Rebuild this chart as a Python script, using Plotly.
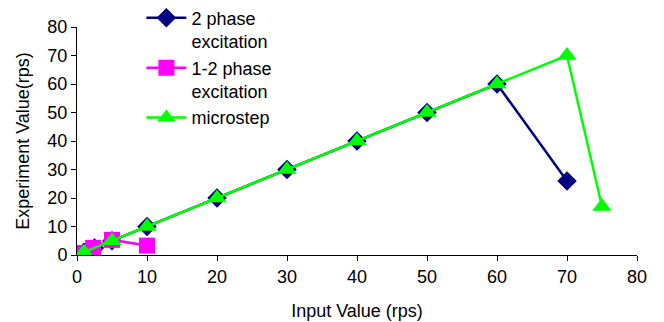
import plotly.graph_objects as go

x_2phase = [1, 2.5, 5, 10, 20, 30, 40, 50, 60, 70]
y_2phase = [1, 2.5, 5, 10, 20, 30, 40, 50, 60, 26]
x_12phase = [0.5, 2.3, 5, 10]
y_12phase = [0.7, 2.5, 5.3, 3.3]
x_micro = [1, 5, 10, 20, 30, 40, 50, 60, 70, 75]
y_micro = [1, 5, 10, 20, 30, 40, 50, 60, 70, 17]

fig = go.Figure()
fig.add_trace(go.Scatter(x=x_2phase, y=y_2phase, mode="lines+markers", name="2 phase<br>excitation",
                         line=dict(color="#000080", width=2.5),
                         marker=dict(symbol="diamond", size=15, color="#000080")))
fig.add_trace(go.Scatter(x=x_12phase, y=y_12phase, mode="lines+markers", name="1-2 phase<br>excitation",
                         line=dict(color="#FF00FF", width=2.5),
                         marker=dict(symbol="square", size=16, color="#FF00FF")))
fig.add_trace(go.Scatter(x=x_micro, y=y_micro, mode="lines+markers", name="microstep",
                         line=dict(color="#00FF00", width=2.5),
                         marker=dict(symbol="triangle-up", size=17, color="#00FF00")))

axis_font = dict(family="Liberation Sans, Arial, sans-serif", size=18, color="black")
fig.update_layout(
    width=664, height=322,
    margin=dict(l=77, r=27, t=27, b=67, autoexpand=False),
    plot_bgcolor="white", paper_bgcolor="white",
    font=axis_font,
    showlegend=True,
    legend=dict(x=0.115, y=1.12, xanchor="left", yanchor="top", bgcolor="rgba(0,0,0,0)",
                font=dict(family="Liberation Sans, Arial, sans-serif", size=18, color="black"),
                tracegroupgap=0, itemwidth=40, valign="top"),
    xaxis=dict(range=[0, 80], dtick=10, showline=True, linecolor="black", linewidth=1,
               ticks="outside", ticklen=5, tickcolor="black", showgrid=False, zeroline=False,
               tickfont=axis_font,
               title=dict(text="Input Value (rps)", font=axis_font, standoff=18)),
    yaxis=dict(range=[0, 80], dtick=10, showline=True, linecolor="black", linewidth=1,
               ticks="outside", ticklen=5, tickcolor="black", showgrid=False, zeroline=False,
               tickfont=axis_font,
               title=dict(text="Experiment Value(rps)", font=axis_font, standoff=13)),
)
fig.write_html("out.html", config={"displayModeBar": False},
               post_script="document.body.style.margin='0';document.body.style.padding='0';")
